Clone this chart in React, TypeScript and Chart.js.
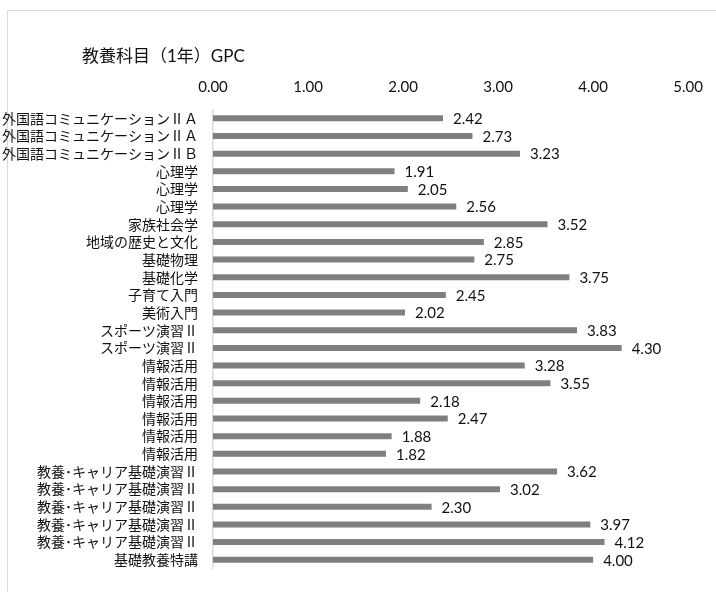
import React, { useEffect, useRef } from "react";
import { Chart, registerables } from "chart.js";

Chart.register(...registerables);

const chartTitle = "教養科目（1年）GPC";

const categories = [
  "外国語コミュニケーションⅡＡ",
  "外国語コミュニケーションⅡＡ",
  "外国語コミュニケーションⅡＢ",
  "心理学",
  "心理学",
  "心理学",
  "家族社会学",
  "地域の歴史と文化",
  "基礎物理",
  "基礎化学",
  "子育て入門",
  "美術入門",
  "スポーツ演習Ⅱ",
  "スポーツ演習Ⅱ",
  "情報活用",
  "情報活用",
  "情報活用",
  "情報活用",
  "情報活用",
  "情報活用",
  "教養･キャリア基礎演習Ⅱ",
  "教養･キャリア基礎演習Ⅱ",
  "教養･キャリア基礎演習Ⅱ",
  "教養･キャリア基礎演習Ⅱ",
  "教養･キャリア基礎演習Ⅱ",
  "基礎教養特講",
];

const gpcValues = [
  2.42, 2.73, 3.23, 1.91, 2.05, 2.56, 3.52, 2.85, 2.75, 3.75, 2.45, 2.02, 3.83,
  4.3, 3.28, 3.55, 2.18, 2.47, 1.88, 1.82, 3.62, 3.02, 2.3, 3.97, 4.12, 4.0,
];

const xMin = 0;
const xMax = 5;
const xStep = 1;

const TEXT = "#111111";
const NUM_FONT = "Lato, 'Noto Sans CJK JP', sans-serif";
const JP_FONT = "'Noto Sans CJK JP', sans-serif";

const frameTitlePlugin = {
  id: "frameTitle",
  beforeDraw(chart: any) {
    const ctx = chart.ctx;
    ctx.save();
    ctx.strokeStyle = "#d9d9d9";
    ctx.lineWidth = 1;
    ctx.strokeRect(7.5, 10.5, 1200, 1200);
    ctx.font = `17px ${NUM_FONT}`;
    ctx.fillStyle = TEXT;
    ctx.textAlign = "left";
    ctx.textBaseline = "middle";
    ctx.fillText(chartTitle, 82, 57);
    ctx.restore();
  },
};

const valueLabelPlugin = {
  id: "valueLabels",
  afterDatasetsDraw(chart: any) {
    const ctx = chart.ctx;
    const meta = chart.getDatasetMeta(0);
    const data = chart.data.datasets[0].data as number[];
    ctx.save();
    ctx.font = `15px ${NUM_FONT}`;
    ctx.fillStyle = TEXT;
    ctx.textAlign = "left";
    ctx.textBaseline = "middle";
    meta.data.forEach((bar: any, i: number) => {
      ctx.fillText(Number(data[i]).toFixed(2), bar.x + 10, bar.y + 1);
    });
    ctx.restore();
  },
};

export default function App() {
  const canvasRef = useRef<HTMLCanvasElement | null>(null);

  useEffect(() => {
    if (!canvasRef.current) return;
    const chart = new Chart(canvasRef.current, {
      type: "bar",
      data: {
        labels: categories,
        datasets: [
          {
            data: gpcValues,
            backgroundColor: "#7f7f7f",
            borderWidth: 0,
            barPercentage: 0.34,
            categoryPercentage: 1,
          },
        ],
      },
      plugins: [frameTitlePlugin, valueLabelPlugin],
      options: {
        indexAxis: "y",
        animation: false,
        responsive: false,
        maintainAspectRatio: false,
        devicePixelRatio: 1,
        layout: { padding: { left: 0, top: 10, right: 17, bottom: 6 } },
        plugins: {
          legend: { display: false },
          tooltip: { enabled: false },
          title: { display: false },
        },
        scales: {
          x: {
            type: "linear",
            position: "top",
            min: xMin,
            max: xMax,
            ticks: {
              stepSize: xStep,
              color: TEXT,
              padding: 13,
              font: { family: NUM_FONT, size: 15 },
              callback: (v: any) => Number(v).toFixed(2),
            },
            grid: { display: false, drawTicks: false },
            border: { display: false },
            afterFit: (scale: any) => {
              scale.height = 99.5;
            },
          },
          y: {
            type: "category",
            ticks: {
              autoSkip: false,
              color: TEXT,
              padding: 15,
              font: { family: JP_FONT, size: 14 },
            },
            grid: { display: false, drawTicks: false },
            border: { display: true, color: "#d9d9d9", width: 1.5 },
            afterFit: (scale: any) => {
              scale.width = 213;
            },
          },
        },
      },
    } as any);
    return () => chart.destroy();
  }, []);

  return (
    <div style={{ position: "fixed", left: 0, top: 0, width: 716, height: 592, background: "#fff" }}>
      <canvas ref={canvasRef} width={716} height={592} style={{ display: "block" }} />
    </div>
  );
}
